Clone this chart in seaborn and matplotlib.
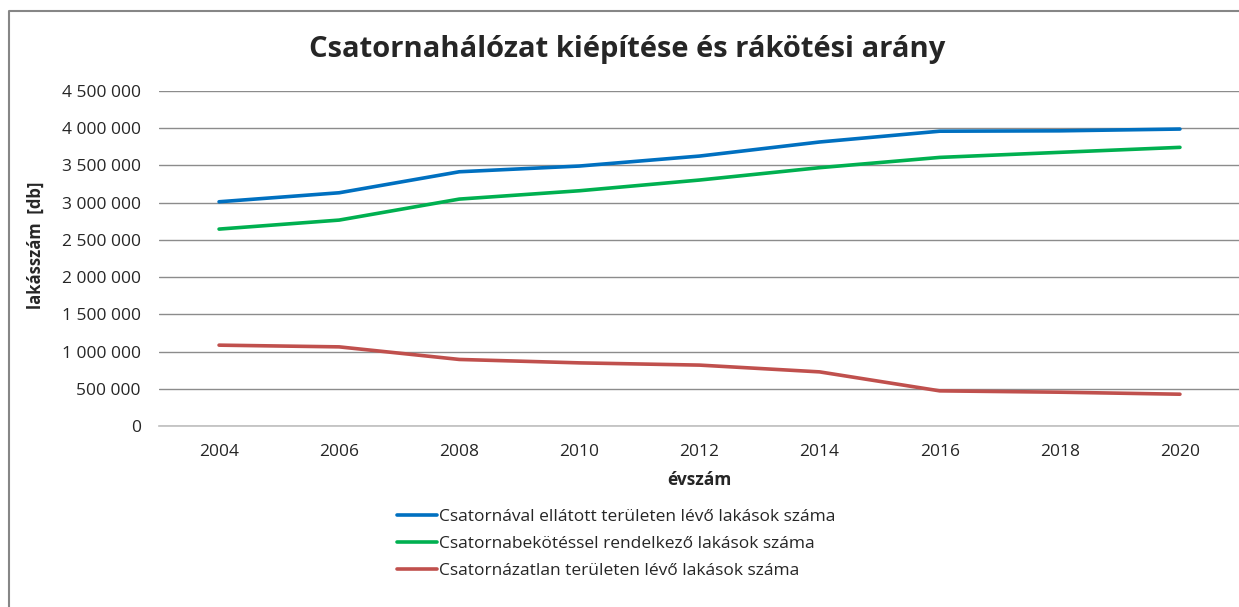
import matplotlib
matplotlib.use("Agg")
import matplotlib.pyplot as plt
import matplotlib.ticker as mticker
from matplotlib.lines import Line2D
import pandas as pd
import seaborn as sns

# data
years = [2004, 2006, 2008, 2010, 2012, 2014, 2016, 2018, 2020]
ellatott = [3012000, 3133000, 3415000, 3492000, 3626000, 3815000, 3960000, 3965000, 3989000]
bekotott = [2645000, 2766000, 3048000, 3160000, 3304000, 3470000, 3608000, 3676000, 3743000]
csatornazatlan = [1086000, 1063000, 894000, 848000, 818000, 727000, 472000, 454000, 427000]

series_names = [
    "Csatornával ellátott területen lévő lakások száma",
    "Csatornabekötéssel rendelkező lakások száma",
    "Csatornázatlan területen lévő lakások száma",
]
colors = ["#0070C0", "#00B050", "#C0504D"]

df = pd.DataFrame({
    "év": years * 3,
    "érték": ellatott + bekotott + csatornazatlan,
    "sorozat": [series_names[0]] * 9 + [series_names[1]] * 9 + [series_names[2]] * 9,
})

sns.set_style("white")
plt.rcParams['font.family'] = ['Open Sans', 'DejaVu Sans']

fig = plt.figure(figsize=(12.39, 6.07), dpi=100)
ax = fig.add_axes([159 / 1239, 1 - 426 / 607, 1081 / 1239, 335 / 607])

sns.lineplot(data=df, x="év", y="érték", hue="sorozat", palette=colors,
             linewidth=2.6, ax=ax, legend=False)

ax.set_xlim(2003, 2021)
ax.set_ylim(0, 4500000)
ax.set_xticks(years)
ax.set_yticks(range(0, 4500001, 500000))
ax.yaxis.set_major_formatter(mticker.FuncFormatter(lambda v, p: f"{v:,.0f}".replace(",", " ")))
ax.tick_params(axis="both", length=0, labelsize=12.5, colors="#262626")
ax.tick_params(axis="x", pad=13)
ax.tick_params(axis="y", pad=13)
ax.grid(axis="y", color="#8c8c8c", linewidth=1)
ax.set_axisbelow(True)
for s in ["top", "right", "left"]:
    ax.spines[s].set_visible(False)
ax.spines["bottom"].set_color("#bfbfbf")
ax.spines["bottom"].set_linewidth(1.2)

ax.set_xlabel("évszám", fontsize=12.5, fontweight="bold", labelpad=8)
ax.set_ylabel("lakásszám  [db]", fontsize=12, fontweight="bold")
ax.yaxis.set_label_coords((45 - 159) / 1081, (426 - 245) / 335)

fig.text(627 / 1239, 1 - 50 / 607, "Csatornahálózat kiépítése és rákötési arány",
         ha="center", va="center", fontsize=21, fontweight="bold")

handles = [Line2D([0], [0], color=c, linewidth=2.6) for c in colors]
ax.legend(handles, series_names, loc="upper left",
          bbox_to_anchor=(397 / 1239, 1 - 509 / 607), bbox_transform=fig.transFigure,
          frameon=False, fontsize=12.5, handlelength=2.3, handletextpad=0.12,
          labelspacing=0.62, borderpad=0, borderaxespad=0)

# outer chart frame (cropped on right and bottom)
fig.add_artist(Line2D([9 / 1239, 9 / 1239, 1.0], [0, 1 - 11 / 607, 1 - 11 / 607],
                      transform=fig.transFigure, color="#868686", linewidth=1.5))

fig.savefig("out.png", dpi=100)
